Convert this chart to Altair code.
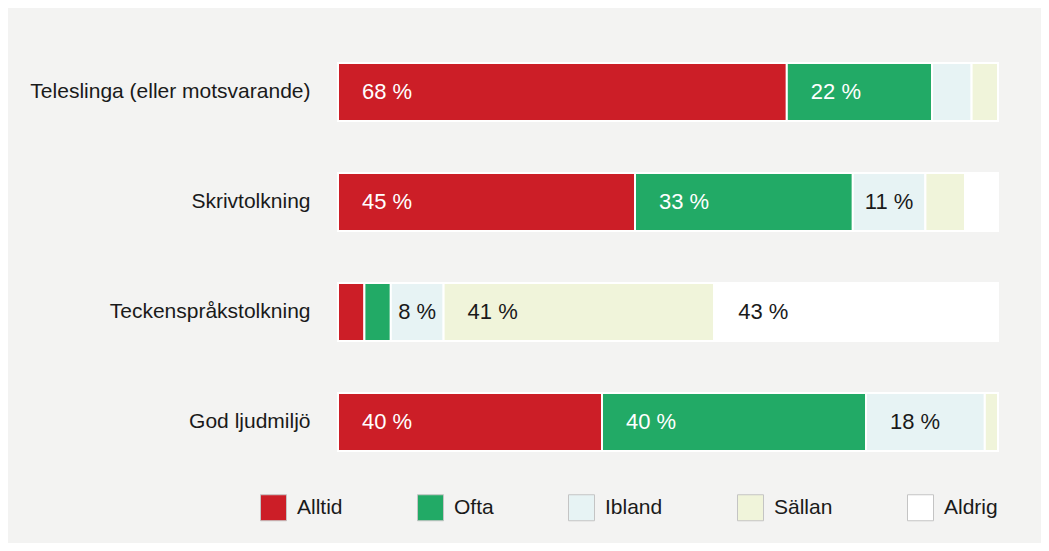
import altair as alt
import pandas as pd

categories = ["Teleslinga (eller motsvarande)", "Skrivtolkning", "Teckenspråkstolkning", "God ljudmiljö"]
responses = ["Alltid", "Ofta", "Ibland", "Sällan", "Aldrig"]
alltid = [68, 45, 4, 40]
ofta = [22, 33, 4, 40]
ibland = [6, 11, 8, 18]
sallan = [4, 6, 41, 2]
aldrig = [0, 5, 43, 0]
colors = ["#cc1e27", "#22aa66", "#e7f3f4", "#f0f4da", "#ffffff"]

series = [alltid, ofta, ibland, sallan, aldrig]
rows = []
for ci, cat in enumerate(categories):
    start = 0
    for ri, resp in enumerate(responses):
        v = series[ri][ci]
        rows.append({"category": cat, "response": resp, "order": ri, "value": v,
                     "start": start, "end": start + v, "mid": start + v / 2,
                     "label": f"{v} %"})
        start += v
df = pd.DataFrame(rows)
df = df[df["value"] > 0]

FONT = "Liberation Sans"

y_enc = alt.Y("category:N", sort=categories, title=None,
              scale=alt.Scale(paddingInner=0.4727, paddingOuter=0.2364),
              axis=alt.Axis(domain=False, ticks=False, labelPadding=28, labelFontSize=21,
                            labelFont=FONT, labelColor="#1a1a1a", labelLimit=400))
x_scale = alt.Scale(domain=[0, 100], nice=False, zero=True)

bars = alt.Chart(df).mark_bar(stroke="white", strokeWidth=2).encode(
    x=alt.X("start:Q", scale=x_scale, axis=None),
    x2="end:Q",
    y=y_enc,
    color=alt.Color("response:N", sort=responses,
                    scale=alt.Scale(domain=responses, range=colors),
                    legend=alt.Legend(orient="none", legendX=-78, legendY=457, direction="horizontal",
                                      title=None, symbolType="square", symbolSize=676,
                                      symbolStrokeColor="#c4c4c4", symbolStrokeWidth=1,
                                      labelFontSize=21, labelFont=FONT, labelColor="#1a1a1a",
                                      labelOffset=10, columnPadding=72, padding=0)),
    order=alt.Order("order:Q"),
)

txt_color = alt.condition("datum.response == 'Alltid' || datum.response == 'Ofta'",
                          alt.value("white"), alt.value("#1a1a1a"))

big = alt.Chart(df).transform_filter("datum.value >= 15").mark_text(
    align="left", baseline="middle", dx=24, fontSize=22, font=FONT
).encode(x=alt.X("start:Q", scale=x_scale), y=alt.Y("category:N", sort=categories), text="label:N", color=txt_color)

small = alt.Chart(df).transform_filter("datum.value >= 8 && datum.value < 15").mark_text(
    align="center", baseline="middle", fontSize=22, font=FONT
).encode(x=alt.X("mid:Q", scale=x_scale), y=alt.Y("category:N", sort=categories), text="label:N", color=txt_color)

chart = alt.layer(bars, big, small).properties(
    width=660, height=440,
    padding={"left": 330, "top": 29, "right": 43, "bottom": 66},
    autosize=alt.AutoSizeParams(type="none"),
    background="#f3f3f2",
).configure_view(stroke=None)

chart.save("out.html", embed_options={"renderer": "svg", "actions": False})
